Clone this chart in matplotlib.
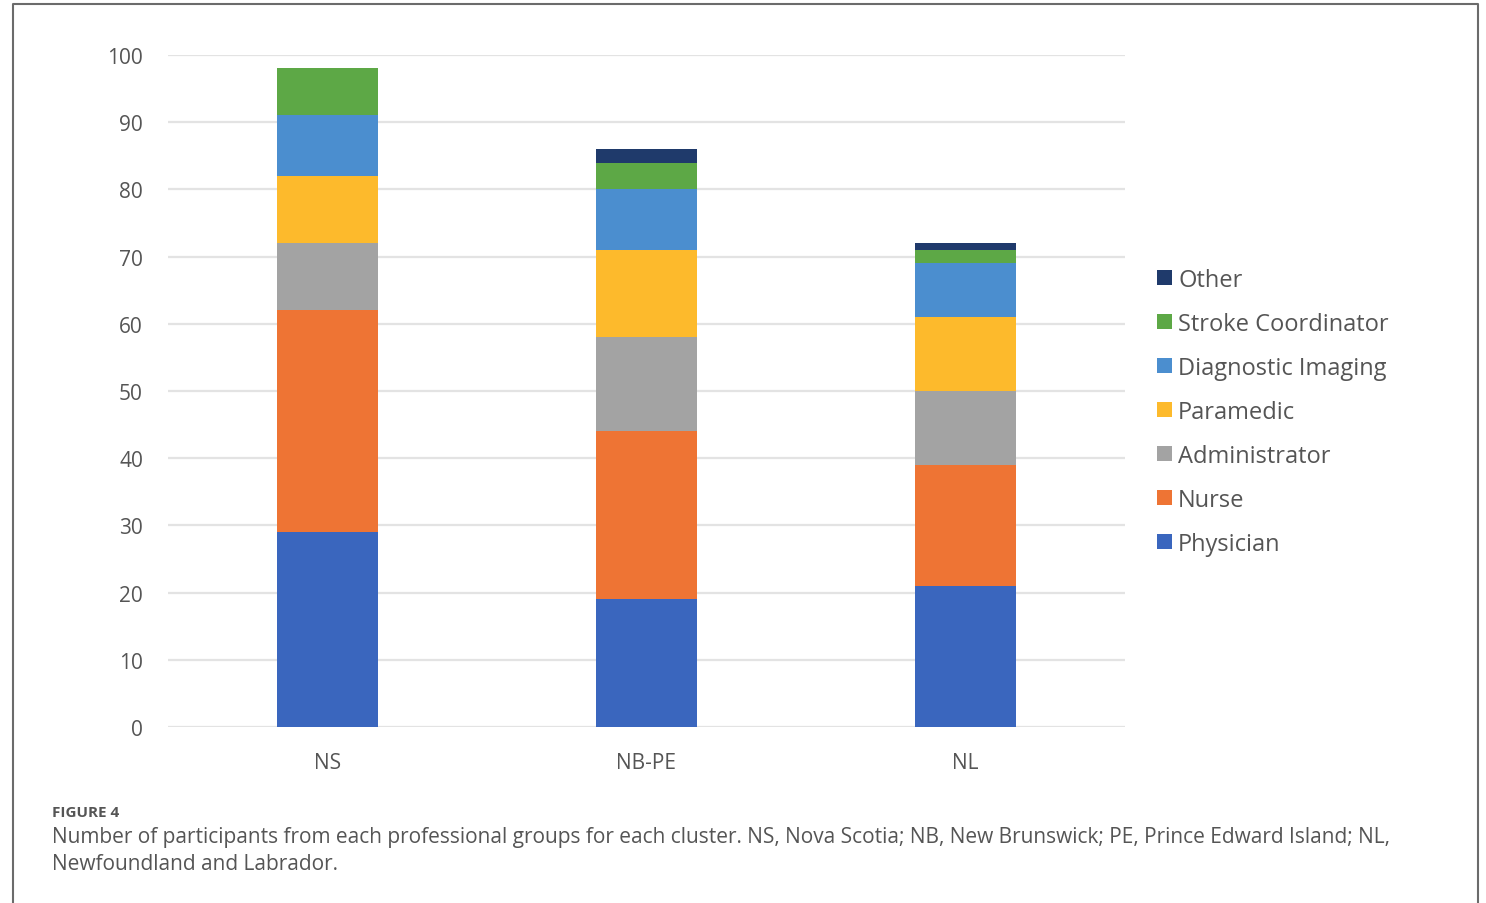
import numpy as np
import matplotlib
matplotlib.use("Agg")
import matplotlib.pyplot as plt
from matplotlib.lines import Line2D

plt.rcParams["font.family"] = ["Open Sans", "DejaVu Sans"]

clusters = ["NS", "NB-PE", "NL"]
groups = ["Physician", "Nurse", "Administrator", "Paramedic",
          "Diagnostic Imaging", "Stroke Coordinator", "Other"]
physician = [29, 19, 21]
nurse = [33, 25, 18]
administrator = [10, 14, 11]
paramedic = [10, 13, 11]
diagnostic_imaging = [9, 9, 8]
stroke_coordinator = [7, 4, 2]
other = [0, 2, 1]

series = [physician, nurse, administrator, paramedic,
          diagnostic_imaging, stroke_coordinator, other]
colors = ["#3A66BE", "#EE7434", "#A3A3A3", "#FDBA2C",
          "#4B8ECF", "#5DA846", "#1F3A6B"]

fig = plt.figure(figsize=(14.86, 9.04), dpi=100)
ax = fig.add_axes([168 / 1486, 1 - 728 / 904, (1125 - 168) / 1486, 672 / 904])

x = np.arange(len(clusters))
bottom = np.zeros(len(clusters))
handles = []
for name, vals, col in zip(groups, series, colors):
    vals = np.array(vals, dtype=float)
    b = ax.bar(x, vals, 0.314, bottom=bottom, color=col, label=name, zorder=3)
    handles.append(b)
    bottom += vals

ax.set_xlim(-0.5, 2.5)
ax.set_ylim(0, 100)
ax.set_yticks(range(0, 101, 10))
ax.set_xticks(x)
ax.set_xticklabels(clusters)
ax.grid(axis="y", color="#e3e3e3", linewidth=1.6, zorder=0)
for s in ax.spines.values():
    s.set_visible(False)
ax.tick_params(axis="both", length=0, labelsize=15, labelcolor="#555555")
ax.tick_params(axis="y", pad=18)
ax.tick_params(axis="x", pad=18)

leg = ax.legend(handles[::-1], groups[::-1], loc="upper left",
                bbox_to_anchor=(1.024, 0.697), frameon=False,
                fontsize=17, handlelength=0.6, handleheight=0.6,
                handletextpad=0.28, labelspacing=0.845, borderaxespad=0)
for t in leg.get_texts():
    t.set_color("#555555")

# page frame
fig.add_artist(Line2D([13 / 1486, 13 / 1486, 1478 / 1486, 1478 / 1486],
                      [0, 1 - 5 / 904, 1 - 5 / 904, 0],
                      transform=fig.transFigure, color="#6b6b6b", linewidth=1.5))

fig.text(52 / 1486, 1 - 813 / 904, "FIGURE 4", fontsize=11, fontweight="bold",
         color="#555555", va="center")
fig.text(52 / 1486, 1 - 838 / 904,
         "Number of participants from each professional groups for each cluster. "
         "NS, Nova Scotia; NB, New Brunswick; PE, Prince Edward Island; NL,",
         fontsize=15, color="#555555", va="center")
fig.text(52 / 1486, 1 - 865 / 904, "Newfoundland and Labrador.",
         fontsize=15, color="#555555", va="center")

fig.savefig("out.png", dpi=100, facecolor="white")
